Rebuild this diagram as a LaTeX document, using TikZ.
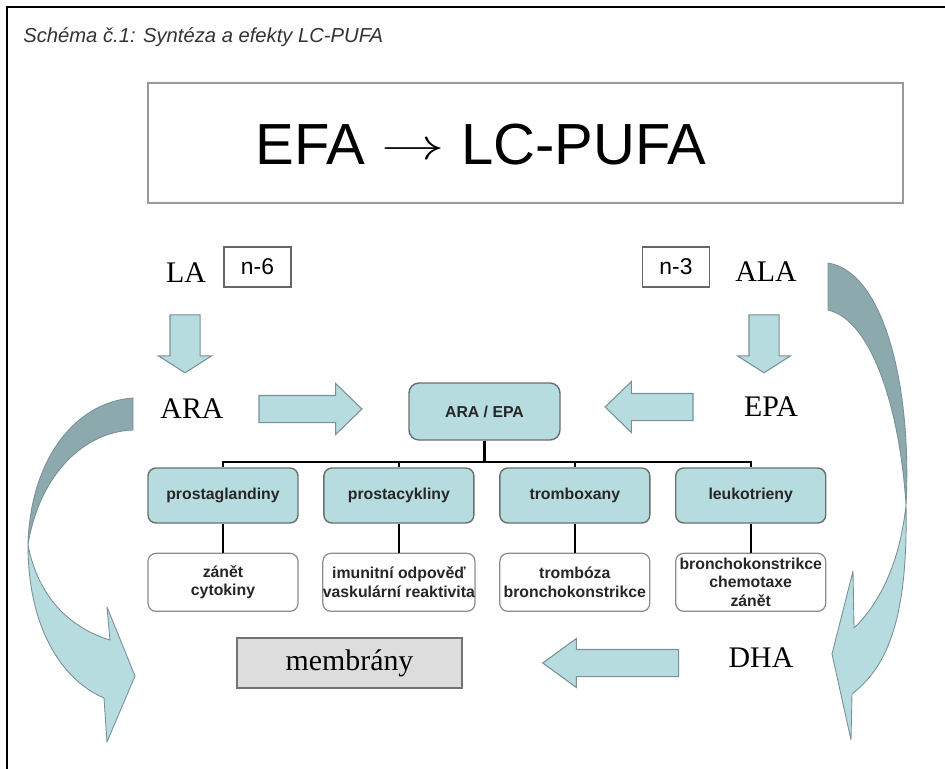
\documentclass[tikz,border=0pt]{standalone}
\usepackage{graphicx}
\usepackage{fontspec}
\setmainfont{Liberation Serif}
\setsansfont{Liberation Sans}
\usetikzlibrary{positioning,shapes.arrows}

\definecolor{tealfill}{RGB}{183,220,224}
\definecolor{tealline}{RGB}{120,145,150}
\definecolor{tealdark}{RGB}{140,170,173}
\definecolor{boxline}{RGB}{105,110,112}
\definecolor{membfill}{RGB}{221,221,221}

\begin{document}
\begin{tikzpicture}[
    x=0.2mm, y=-0.2mm,
    every node/.style={inner sep=0pt},
    lbl/.style={font=\fontsize{17}{20}\selectfont},
    tag/.style={draw=black!60,line width=0.6pt,minimum width=13.4mm,minimum height=8mm,font=\sffamily\fontsize{13}{15}\selectfont},
    grp/.style={draw=boxline,line width=0.8pt,fill=tealfill,rounded corners=1.6mm,minimum width=30mm,minimum height=11mm,font=\sffamily\bfseries\fontsize{9}{10.5}\selectfont,text=black!85},
    eff/.style={draw=black!45,line width=0.7pt,fill=white,rounded corners=1.6mm,minimum width=30mm,minimum height=11.6mm,align=center,font=\sffamily\bfseries\fontsize{9}{10.5}\selectfont,text=black!85},
    blk/.style={single arrow,draw=tealline,fill=tealfill,line width=0.6pt,inner xsep=0pt,minimum width=0pt},
    tree/.style={draw=black,line width=1.2pt},
    band/.style={draw=tealline,line width=0.5pt,line join=round}
  ]
  \useasboundingbox (0,0) rectangle (945,769);
  % frame and caption
  \draw[line width=0.6pt] (945,7) -- (7,7) -- (7,769);
  \node[anchor=base west,font=\sffamily\itshape\fontsize{11.5}{13}\selectfont,text=black!80] (cap) at (23,43) {Schéma č.1: Syntéza a efekty LC-PUFA};
  % headline
  \node[draw=black!40,line width=1.4pt,minimum width=151mm,minimum height=24mm] (headbox) at (525.5,143) {};
  \node[anchor=base,font=\sffamily\fontsize{33}{36}\selectfont] (headtxt) at (481,165) {EFA \raisebox{3pt}{\scalebox{1.45}[1]{$\rightarrow$}} LC-PUFA};
  % n-6 side
  \node[lbl] (la) at (186,273) {LA};
  \node[tag] (n6) at (257.5,267) {n-6};
  \node[blk,inner ysep=2.9mm,single arrow head extend=2.3mm,single arrow tip angle=115,minimum height=11.6mm,rotate=-90] (dnl) at (185,339) {};
  \node[lbl] (ara) at (192,409) {ARA};
  \node[blk,inner ysep=2.6mm,single arrow head extend=2.4mm,single arrow tip angle=88,minimum height=20.6mm] (arr1) at (303.5,409) {};
  % n-3 side
  \node[tag] (n3) at (676,267) {n-3};
  \node[lbl] (ala) at (766,272) {ALA};
  \node[blk,inner ysep=2.9mm,single arrow head extend=2.3mm,single arrow tip angle=115,minimum height=11.6mm,rotate=-90] (dnr) at (764,339) {};
  \node[lbl] (epa) at (771,407) {EPA};
  \node[blk,inner ysep=2.6mm,single arrow head extend=2.4mm,single arrow tip angle=88,minimum height=17.6mm,rotate=180] (arr2) at (656,407) {};
  % eicosanoids
  \node[grp,minimum width=30.2mm,minimum height=11.4mm,rounded corners=2mm] (araepa) at (484.5,411.5) {ARA / EPA};
  \node[grp] (pg) at (223,495.5) {prostaglandiny};
  \node[grp,right=4.9mm of pg] (pc) {prostacykliny};
  \node[grp,right=4.9mm of pc] (tx) {tromboxany};
  \node[grp,right=4.9mm of tx] (lt) {leukotrieny};
  \node[eff,below=5.8mm of pg] (pgw) {zánět\\cytokiny};
  \node[eff,below=5.8mm of pc] (pcw) {imunitní odpověď\\vaskulární reaktivita};
  \node[eff,below=5.8mm of tx] (txw) {trombóza\\bronchokonstrikce};
  \node[eff,below=5.8mm of lt] (ltw) {bronchokonstrikce\\chemotaxe\\zánět};
  \coordinate (bus) at (0,462);
  \draw[tree] (pg.north) -- (pg.north |- bus) -- (lt.north |- bus) -- (lt.north);
  \draw[tree] (araepa.south) -- (araepa.south |- bus);
  \foreach \n in {pc,tx}{\draw[tree] (\n.north) -- (\n.north |- bus);}
  \foreach \a/\b in {pg/pgw,pc/pcw,tx/txw,lt/ltw}{\draw[tree] (\a) -- (\b);}
  % membranes
  \node[draw=black!55,fill=membfill,line width=0.7pt,minimum width=45mm,minimum height=10mm,lbl] (memb) at (349.5,663) {membrány};
  \node[lbl] (dha) at (761,658) {DHA};
  \node[blk,inner ysep=2.6mm,single arrow head extend=2.2mm,single arrow tip angle=72,minimum height=27.2mm,rotate=180] (arr3) at (620,663) {};
  % curved arrows
  \filldraw[band,fill=tealdark] (133,398) .. controls (75,402) and (30,460) .. (28,545)
    .. controls (38,480) and (80,432) .. (133,430) -- cycle;
  \filldraw[band,fill=tealfill] (28,545) .. controls (28,628) and (62,680) .. (104,698) -- (107,742) -- (135,676)
    -- (107,607) -- (110,640) .. controls (70,628) and (38,597) .. (28,545) -- cycle;
  \filldraw[band,fill=tealdark] (828,263) .. controls (885,272) and (912,390) .. (906,505)
    .. controls (900,410) and (872,320) .. (828,310) -- cycle;
  \filldraw[band,fill=tealfill] (906,505) .. controls (908,612) and (890,665) .. (852,694) -- (851,740) -- (832,654)
    -- (853,571) -- (854,628) .. controls (880,603) and (900,562) .. (906,505) -- cycle;
\end{tikzpicture}
\end{document}
